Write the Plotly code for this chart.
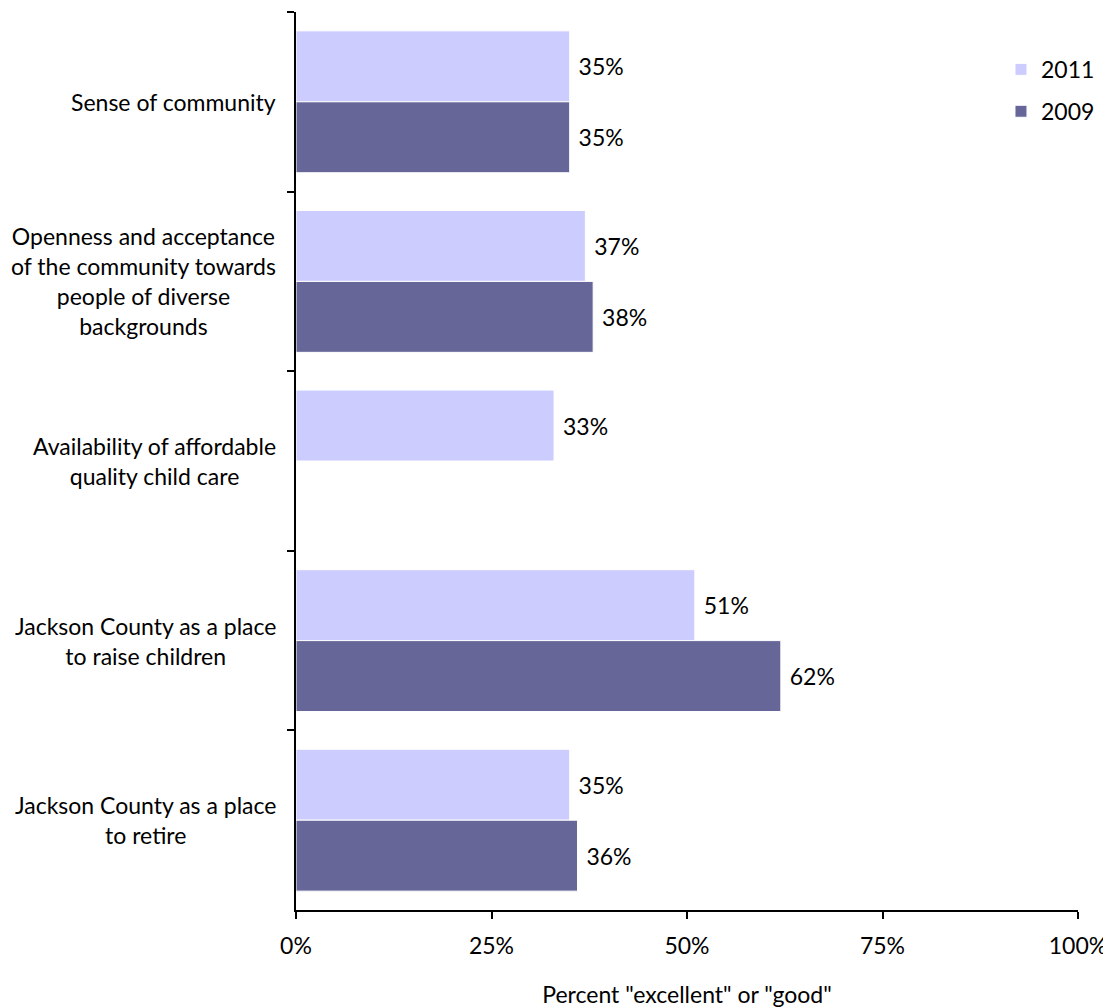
import plotly.graph_objects as go

categories = [
    "Sense of community",
    "Openness and acceptance<br>of the community towards<br>people of diverse<br>backgrounds",
    "Availability of affordable<br>quality child care",
    "Jackson County as a place<br>to raise children",
    "Jackson County as a place<br>to retire",
]
keys = ["c1", "c2", "c3", "c4", "c5"]
values_2011 = [35, 37, 33, 51, 35]
values_2009 = [35, 38, None, 62, 36]
x_ticks = [0, 25, 50, 75, 100]
x_tick_labels = ["0%", "25%", "50%", "75%", "100%"]

FONT = "Lato, 'Open Sans', sans-serif"
FS = 23

def labels(vals):
    return ["\u00a0" + f"{v}%" if v is not None else "" for v in vals]

fig = go.Figure()
fig.add_trace(go.Bar(
    name="2011", y=keys, x=values_2011, orientation="h",
    marker=dict(color="#CCCCFF", line=dict(color="white", width=1)),
    text=labels(values_2011), textposition="outside",
    textfont=dict(family=FONT, size=FS, color="black"),
    legendgroup="a", cliponaxis=False,
))
fig.add_trace(go.Bar(
    name="2009", y=keys, x=values_2009, orientation="h",
    marker=dict(color="#666699", line=dict(color="white", width=1)),
    text=labels(values_2009), textposition="outside",
    textfont=dict(family=FONT, size=FS, color="black"),
    legendgroup="b", cliponaxis=False,
))

for k, c in zip(keys, categories):
    fig.add_annotation(
        x=-0.023, xref="paper", y=k, yref="y", text=c, showarrow=False,
        xanchor="right", yanchor="middle", align="center",
        font=dict(family=FONT, size=FS, color="black"),
    )

fig.update_layout(
    width=1103, height=1000,
    margin=dict(l=288, r=33, t=4, b=98, autoexpand=False),
    paper_bgcolor="white", plot_bgcolor="white",
    barmode="group", bargap=0.21, bargroupgap=0.0,
    font=dict(family=FONT, size=FS, color="black"),
    legend=dict(
        x=0.9015, xanchor="left", y=0.96, yanchor="top",
        traceorder="grouped", tracegroupgap=9,
        font=dict(family=FONT, size=FS, color="black"),
        bgcolor="rgba(0,0,0,0)", itemwidth=30,
    ),
    xaxis=dict(
        range=[0, 100], tickvals=x_ticks, ticktext=x_tick_labels,
        showgrid=False, zeroline=False, showline=True, linecolor="black", linewidth=2,
        ticks="outside", ticklen=7, tickwidth=2, tickcolor="black",
        ticklabelstandoff=7,
        title=dict(text='Percent "excellent" or "good"', standoff=31,
                   font=dict(family=FONT, size=FS, color="black")),
        tickfont=dict(family=FONT, size=FS, color="black"),
    ),
    yaxis=dict(
        autorange="reversed", showticklabels=False, showgrid=False, zeroline=False,
        showline=True, linecolor="black", linewidth=2,
        ticks="outside", tickson="boundaries", ticklen=7, tickwidth=2, tickcolor="black",
    ),
)

fig.write_html("out.html")
